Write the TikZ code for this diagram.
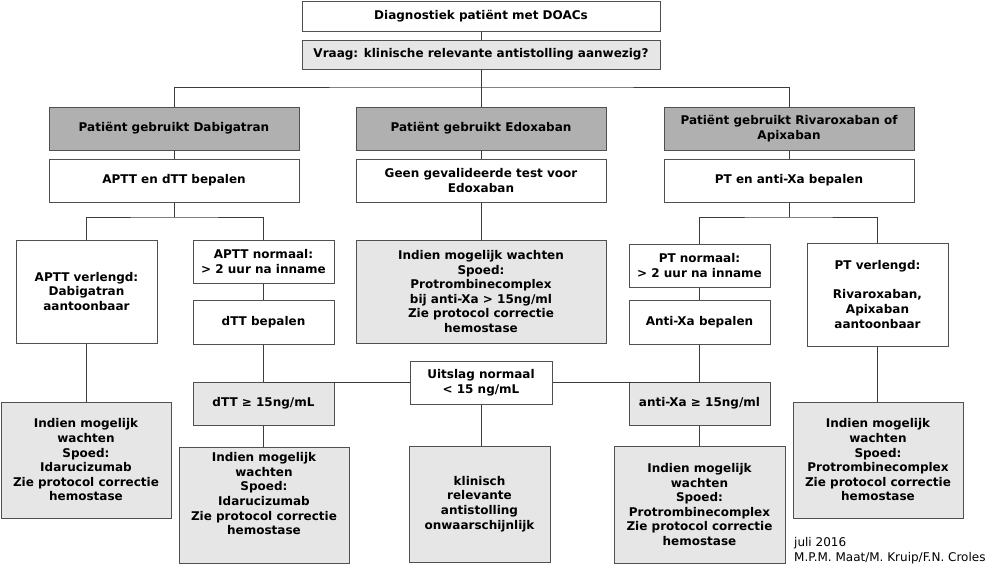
\documentclass[tikz,border=0pt]{standalone}
\usepackage{fontspec}
\setmainfont{DejaVu Sans}
\definecolor{boxline}{HTML}{505050}
\definecolor{wireline}{HTML}{3C3C3C}
\definecolor{lightfill}{HTML}{E6E6E6}
\definecolor{darkfill}{HTML}{B0B0B0}
\newcommand{\boxfont}{\fontsize{12}{14.6}\selectfont\bfseries}

\begin{document}
\begin{tikzpicture}[x=1pt, y=-1pt,
    box/.style={draw=boxline, line width=1pt, fill=white, align=center, inner sep=0pt, font=\boxfont},
    lightbox/.style={box, fill=lightfill},
    darkbox/.style={box, fill=darkfill},
    wire/.style={draw=wireline, line width=0.9pt}]
    \useasboundingbox (0,0) rectangle (999,568);

    % top
    \node[box, minimum width=358, minimum height=30] (diag) at (481,16) {Diagnostiek patiënt met DOACs};
    \node[lightbox, minimum width=358, minimum height=29] (vraag) at (481,54.5) {Vraag: klinische relevante antistolling aanwezig?};

    % three columns
    \node[darkbox, minimum width=250, minimum height=43] (dabig) at (174,128.5) {Patiënt gebruikt Dabigatran};
    \node[darkbox, minimum width=250, minimum height=43] (edox) at (481,128.5) {Patiënt gebruikt Edoxaban};
    \node[darkbox, minimum width=250, minimum height=43] (riva) at (789,128.5) {Patiënt gebruikt Rivaroxaban of\\Apixaban};

    \node[box, minimum width=250, minimum height=43] (apttdtt) at (174,180.5) {APTT en dTT bepalen};
    \node[box, minimum width=250, minimum height=43] (geentest) at (481,180.5) {Geen gevalideerde test voor\\Edoxaban};
    \node[box, minimum width=250, minimum height=43] (ptanti) at (789,180.5) {PT en anti-Xa bepalen};

    % dabigatran
    \node[box, minimum width=141, minimum height=103] (apttverl) at (86.5,291.5) {APTT verlengd:\\Dabigatran\\aantoonbaar};
    \node[box, minimum width=141, minimum height=43] (apttnorm) at (263.5,261.5) {APTT normaal:\\> 2 uur na inname};
    \node[box, minimum width=141, minimum height=44] (dttbep) at (263.5,322) {dTT bepalen};
    \node[lightbox, minimum width=141, minimum height=43] (dtthoog) at (263.5,403.5) {dTT ≥ 15ng/mL};
    \node[lightbox, minimum width=170, minimum height=116] (dabwacht) at (86,460) {Indien mogelijk\\wachten\\Spoed:\\Idarucizumab\\Zie protocol correctie\\hemostase};
    \node[lightbox, minimum width=170, minimum height=116] (dttwacht) at (264,505) {Indien mogelijk\\wachten\\Spoed:\\Idarucizumab\\Zie protocol correctie\\hemostase\\[8pt]};

    % edoxaban
    \node[lightbox, minimum width=250, minimum height=103] (edoxwacht) at (481,291.5) {Indien mogelijk wachten\\Spoed:\\Protrombinecomplex\\bij anti-Xa > 15ng/ml\\Zie protocol correctie\\hemostase};
    \node[box, minimum width=142, minimum height=43] (uitslag) at (481,382.5) {Uitslag normaal\\< 15 ng/mL};
    \node[lightbox, minimum width=141, minimum height=116] (klinisch) at (479.5,504) {klinisch\\relevante\\antistolling\\onwaarschijnlijk};

    % rivaroxaban / apixaban
    \node[box, minimum width=141, minimum height=43] (ptnorm) at (699.5,265.5) {PT normaal:\\> 2 uur na inname};
    \node[box, minimum width=141, minimum height=44] (antixabep) at (699.5,322) {Anti-Xa bepalen};
    \node[lightbox, minimum width=141, minimum height=43] (antixahoog) at (699.5,403.5) {anti-Xa ≥ 15ng/ml};
    \node[lightbox, minimum width=171, minimum height=117] (antixawacht) at (699.5,504.5) {Indien mogelijk\\wachten\\Spoed:\\Protrombinecomplex\\Zie protocol correctie\\hemostase};
    \node[box, minimum width=141, minimum height=103] (ptverl) at (877.5,294.5) {PT verlengd:\\ \\Rivaroxaban,\\Apixaban\\aantoonbaar};
    \node[lightbox, minimum width=170, minimum height=116] (rivwacht) at (878,460) {Indien mogelijk\\wachten\\Spoed:\\Protrombinecomplex\\Zie protocol correctie\\hemostase};

    \node[anchor=north west, align=left, inner sep=0pt, font=\fontsize{12}{15}\selectfont] (credit) at (794,537) {juli 2016\\M.P.M. Maat/M. Kruip/F.N. Croles};

    % connectors
    \coordinate (split) at (481,87);
    \coordinate (dabsplit) at (174,217);
    \coordinate (rivsplit) at (789,217);

    \draw[wire] (diag) -- (vraag);
    \draw[wire] (vraag) -- (edox);
    \draw[wire] (dabig.north) |- (split) -| (riva.north);
    \draw[wire] (dabig) -- (apttdtt);
    \draw[wire] (edox) -- (geentest);
    \draw[wire] (riva) -- (ptanti);

    \draw[wire] (apttdtt) -- (dabsplit);
    \draw[wire] (apttverl.north) |- (dabsplit) -| (apttnorm.north);
    \draw[wire] (apttverl.south) -- (apttverl.south |- dabwacht.north);
    \draw[wire] (apttnorm) -- (dttbep);
    \draw[wire] (dttbep) -- (dtthoog);
    \draw[wire] (dtthoog.south) -- (dtthoog.south |- dttwacht.north);

    \draw[wire] (geentest) -- (edoxwacht);
    \draw[wire] (uitslag.west) -- (uitslag.west -| dttbep.south);
    \draw[wire] (uitslag.east) -- (uitslag.east -| antixabep.south);
    \draw[wire] (uitslag.south) -- (uitslag.south |- klinisch.north);

    \draw[wire] (ptanti) -- (rivsplit);
    \draw[wire] (ptnorm.north) |- (rivsplit) -| (ptverl.north);
    \draw[wire] (ptnorm) -- (antixabep);
    \draw[wire] (antixabep) -- (antixahoog);
    \draw[wire] (antixahoog) -- (antixawacht);
    \draw[wire] (ptverl.south) -- (ptverl.south |- rivwacht.north);
\end{tikzpicture}
\end{document}
